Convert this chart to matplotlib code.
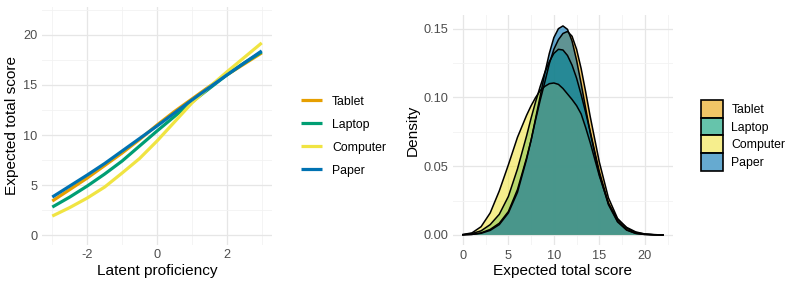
import matplotlib
matplotlib.use("Agg")
import matplotlib.pyplot as plt
from matplotlib.patches import Patch
from matplotlib.colors import to_rgba

plt.rcParams['font.family'] = ['Liberation Sans', 'DejaVu Sans']
plt.rcParams['axes.unicode_minus'] = False

# Data
modes = ["Tablet", "Laptop", "Computer", "Paper"]
colors = ["#E69F00", "#009E73", "#F0E442", "#0072B2"]

theta = [-3, -2.5, -2, -1.5, -1, -0.5, 0, 0.5, 1, 1.5, 2, 2.5, 3]
ets_tablet = [3.4, 4.55, 5.7, 6.95, 8.2, 9.55, 11.0, 12.35, 13.6, 14.85, 16.0, 17.1, 18.2]
ets_laptop = [2.8, 3.8, 4.9, 6.1, 7.4, 8.9, 10.4, 11.85, 13.3, 14.65, 16.0, 17.2, 18.3]
ets_computer = [1.9, 2.75, 3.7, 4.8, 6.2, 7.65, 9.4, 11.3, 13.2, 14.8, 16.3, 17.75, 19.2]
ets_paper = [3.8, 4.9, 6.0, 7.15, 8.4, 9.65, 10.9, 12.2, 13.5, 14.75, 16.0, 17.2, 18.4]

score = [0, 1, 2, 3, 4, 5, 6, 7, 7.5, 8, 8.5, 9, 9.5, 10, 10.5, 11, 11.5,
         12, 12.5, 13, 13.5, 14, 15, 16, 17, 18, 19, 20, 21, 22]
dens_tablet = [0.0001, 0.0004, 0.0015, 0.0040, 0.0085, 0.0170, 0.0330, 0.0560, 0.0690,
               0.0840, 0.0980, 0.1110, 0.1245, 0.1350, 0.1420, 0.1465, 0.1480, 0.1445,
               0.1350, 0.1210, 0.1040, 0.0860, 0.0530, 0.0270, 0.0120, 0.0050, 0.0018,
               0.0006, 0.0002, 0.0000]
dens_laptop = [0.0002, 0.0010, 0.0030, 0.0075, 0.0150, 0.0280, 0.0480, 0.0720, 0.0850,
               0.0970, 0.1080, 0.1180, 0.1260, 0.1320, 0.1350, 0.1345, 0.1305, 0.1235,
               0.1140, 0.1020, 0.0890, 0.0750, 0.0460, 0.0230, 0.0100, 0.0038, 0.0012,
               0.0004, 0.0001, 0.0000]
dens_computer = [0.0003, 0.0015, 0.0060, 0.0160, 0.0320, 0.0510, 0.0710, 0.0870, 0.0940,
                 0.1000, 0.1050, 0.1080, 0.1100, 0.1105, 0.1095, 0.1065, 0.1025, 0.0985,
                 0.0940, 0.0880, 0.0780, 0.0670, 0.0430, 0.0230, 0.0115, 0.0055, 0.0022,
                 0.0007, 0.0002, 0.0000]
dens_paper = [0.0001, 0.0004, 0.0012, 0.0033, 0.0075, 0.0160, 0.0310, 0.0550, 0.0690,
              0.0850, 0.1010, 0.1175, 0.1320, 0.1435, 0.1500, 0.1520, 0.1495, 0.1410,
              0.1270, 0.1100, 0.0920, 0.0745, 0.0440, 0.0220, 0.0095, 0.0035, 0.0011,
              0.0003, 0.0001, 0.0000]

ets = [ets_tablet, ets_laptop, ets_computer, ets_paper]
dens = [dens_tablet, dens_laptop, dens_computer, dens_paper]

fig = plt.figure(figsize=(7.89, 2.87), dpi=100)
ax1 = fig.add_axes([0.053, 0.146, 0.292, 0.830])
ax2 = fig.add_axes([0.574, 0.145, 0.279, 0.803])

grid_major = "#e6e6e6"
grid_minor = "#f2f2f2"
tick_col = "#4d4d4d"


def style(ax):
    for s in ax.spines.values():
        s.set_visible(False)
    ax.set_axisbelow(True)
    ax.grid(True, which="major", color=grid_major, lw=0.9)
    ax.grid(True, which="minor", color=grid_minor, lw=0.6)
    ax.tick_params(which="both", length=0, labelsize=9.2, labelcolor=tick_col, pad=3)


# Left: expected total score curves
for name, col, y in zip(modes, colors, ets):
    ax1.plot(theta, y, color=col, lw=2.3, label=name, solid_capstyle="butt")
ax1.set_xlim(-3.3, 3.3)
ax1.set_ylim(-1.0, 22.8)
ax1.set_xticks([-2, 0, 2])
ax1.set_xticks([-3, -1, 1, 3], minor=True)
ax1.set_yticks([0, 5, 10, 15, 20])
ax1.set_yticks([2.5, 7.5, 12.5, 17.5, 22.5], minor=True)
style(ax1)
ax1.set_xlabel("Latent proficiency", fontsize=11.1, labelpad=2)
ax1.set_ylabel("Expected total score", fontsize=11.1, labelpad=3)
ax1.legend(loc="center left", bbox_to_anchor=(0.368, 0.526), bbox_transform=fig.transFigure,
           frameon=False, fontsize=8.8, handlelength=1.7, labelspacing=0.9, handletextpad=0.8)

# Right: density of expected total score
for name, col, d in zip(modes, colors, dens):
    ax2.fill_between(score, 0, d, facecolor=to_rgba(col, 0.6), edgecolor="none")
    ax2.plot(score, d, color="black", lw=1.1)
ax2.set_xlim(-1.1, 23.1)
ax2.set_ylim(-0.0076, 0.160)
ax2.set_xticks([0, 5, 10, 15, 20])
ax2.set_xticks([2.5, 7.5, 12.5, 17.5, 22.5], minor=True)
ax2.set_yticks([0, 0.05, 0.10, 0.15])
ax2.set_yticklabels(["0.00", "0.05", "0.10", "0.15"])
ax2.set_yticks([0.025, 0.075, 0.125], minor=True)
style(ax2)
ax2.set_xlabel("Expected total score", fontsize=11.1, labelpad=2)
ax2.set_ylabel("Density", fontsize=11.1, labelpad=3)

handles = [Patch(facecolor=to_rgba(c, 0.6), edgecolor="black", lw=1.2) for c in colors]
ax2.legend(handles, modes, loc="center left", bbox_to_anchor=(0.875, 0.528),
           bbox_transform=fig.transFigure, frameon=False, fontsize=8.8,
           handlelength=1.75, handleheight=1.85, labelspacing=0.0, handletextpad=0.7)

fig.savefig("out.png", dpi=100)
